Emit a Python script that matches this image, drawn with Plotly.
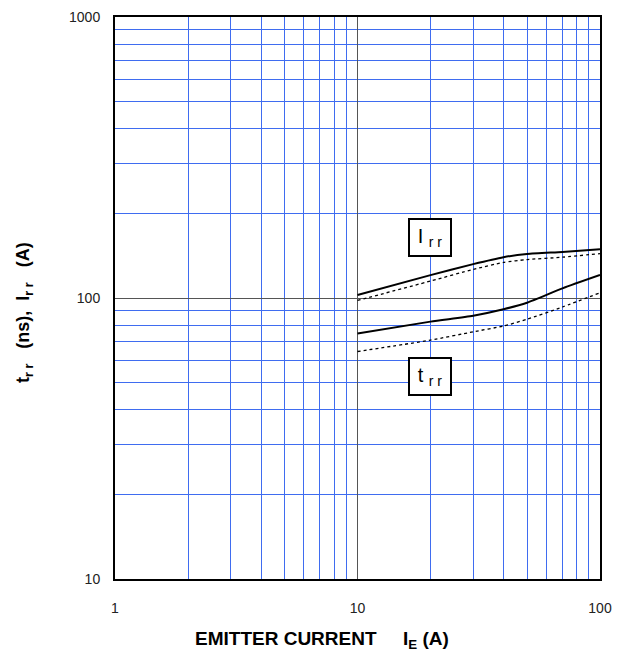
import plotly.graph_objects as go

# Data
ie_points = [10, 20, 30, 40, 50, 70, 100]
irr_solid = [102.5, 120.6, 132, 139.7, 143.5, 145.9, 149]
irr_dotted = [98, 114.9, 126.4, 133.8, 137, 139.7, 143.9]
trr_solid = [74.7, 82.4, 86.5, 91.2, 96.2, 108.2, 120.7]
trr_dotted = [64.5, 70.8, 75.8, 79.5, 84, 92.9, 104.4]

x_ticks = [1, 10, 100]
x_tick_text = ["1", "10", "100"]
y_ticks = [10, 100, 1000]
y_tick_text = ["10", "100", "1000"]

BLUE = "#3f6cf0"
FONT = "Liberation Sans, Arial, sans-serif"
NB = "\u00a0"

fig = go.Figure()
for ys, dash in [(irr_solid, "solid"), (irr_dotted, "dot"), (trr_solid, "solid"), (trr_dotted, "dot")]:
    fig.add_trace(go.Scatter(
        x=ie_points, y=ys, mode="lines",
        line=dict(color="black", width=2 if dash == "solid" else 1.3, dash=dash, shape="spline", smoothing=0.6),
        showlegend=False, hoverinfo="skip"))

axis_common = dict(
    type="log", showline=True, mirror=True, linecolor="black", linewidth=2,
    showgrid=True, gridcolor="#555555", gridwidth=1,
    ticks="", zeroline=False, ticklabeloverflow="allow", automargin=False,
    minor=dict(dtick="D1", showgrid=True, gridcolor=BLUE, gridwidth=1, ticks=""),
    tickfont=dict(family=FONT, size=14, color="#222222"),
)

# figure drawn inside the page's body margin
L, T = 8, 8
W, H = 614, 644
pl, pr, pt, pb = 115, 600, 17, 579

fig.update_layout(
    width=W, height=H,
    margin=dict(l=pl - L, r=(L + W) - pr, t=pt - T, b=(T + H) - pb, autoexpand=False),
    paper_bgcolor="white", plot_bgcolor="white",
    xaxis=dict(range=[0, 2], tickvals=x_ticks, ticktext=x_tick_text, ticklabelstandoff=15, **axis_common),
    yaxis=dict(range=[1, 3], tickvals=y_ticks, ticktext=y_tick_text, ticklabelstandoff=10, **axis_common),
    font=dict(family=FONT),
)

fig.add_annotation(
    xref="paper", yref="paper", x=(322 - pl) / (pr - pl), y=-(640 - pb) / (pb - pt),
    text="<b>EMITTER CURRENT" + NB * 5 + "I<sub>E</sub> (A)</b>", showarrow=False,
    font=dict(family=FONT, size=19, color="black"), xanchor="center", yanchor="middle")

sub_rr = "<sub>r" + NB + "r</sub>"
fig.add_annotation(
    xref="paper", yref="paper", x=-(pl - 24) / (pr - pl), y=(pb - 313) / (pb - pt),
    text="<b>t" + sub_rr + NB * 3 + "(ns)," + NB * 2 + "I" + sub_rr + NB * 3 + "(A)</b>",
    showarrow=False, textangle=-90,
    font=dict(family=FONT, size=18, color="black"), xanchor="center", yanchor="middle")

for label, ylog in [("I" + NB + sub_rr, 2.2148), ("t" + NB + sub_rr, 1.72)]:
    fig.add_annotation(
        x=1.301, y=ylog, xref="x", yref="y",
        text=label, showarrow=False, bgcolor="white",
        bordercolor="black", borderwidth=2, width=38, height=33,
        font=dict(family=FONT, size=20, color="black"), align="center", valign="middle")

fig.write_html("out.html")
